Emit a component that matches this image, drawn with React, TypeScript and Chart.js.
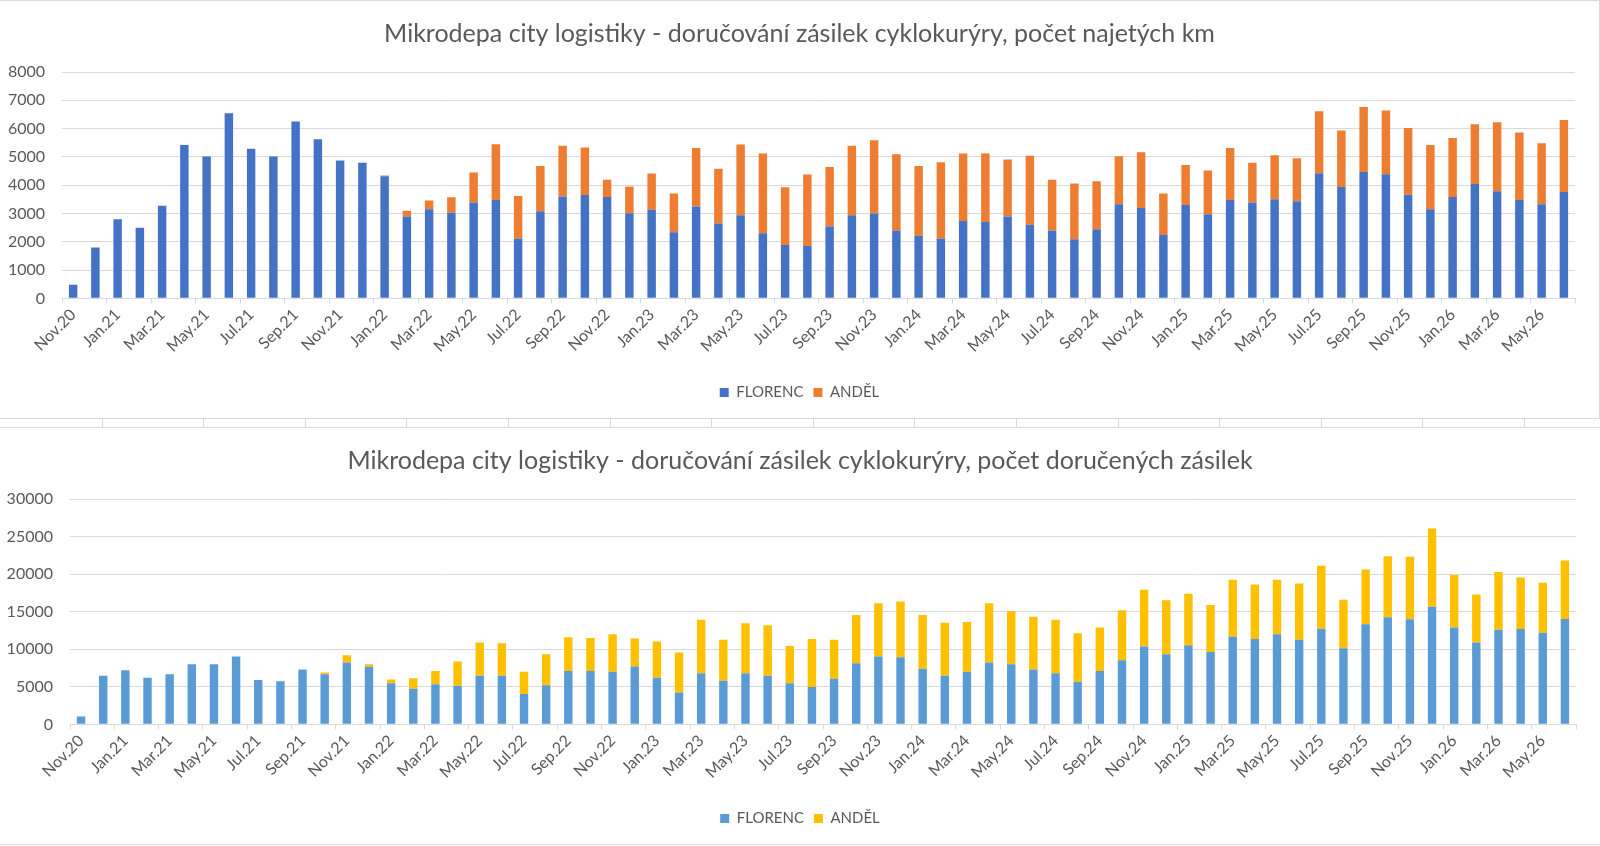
import { useEffect, useRef } from "react";
import Chart from "chart.js/auto";

const months = [
  "Nov.20", "Dec.20",
  "Jan.21", "Feb.21", "Mar.21", "Apr.21", "May.21", "Jun.21", "Jul.21", "Aug.21", "Sep.21", "Oct.21", "Nov.21", "Dec.21",
  "Jan.22", "Feb.22", "Mar.22", "Apr.22", "May.22", "Jun.22", "Jul.22", "Aug.22", "Sep.22", "Oct.22", "Nov.22", "Dec.22",
  "Jan.23", "Feb.23", "Mar.23", "Apr.23", "May.23", "Jun.23", "Jul.23", "Aug.23", "Sep.23", "Oct.23", "Nov.23", "Dec.23",
  "Jan.24", "Feb.24", "Mar.24", "Apr.24", "May.24", "Jun.24", "Jul.24", "Aug.24", "Sep.24", "Oct.24", "Nov.24", "Dec.24",
  "Jan.25", "Feb.25", "Mar.25", "Apr.25", "May.25", "Jun.25", "Jul.25", "Aug.25", "Sep.25", "Oct.25", "Nov.25", "Dec.25",
  "Jan.26", "Feb.26", "Mar.26", "Apr.26", "May.26", "Jun.26",
];

// počet najetých km
const kmFlorenc = [
  480, 1800,
  2800, 2500, 3270, 5420, 5010, 6540, 5290, 5010, 6250, 5620, 4870, 4790,
  4320, 2890, 3150, 3030, 3390, 3480, 2120, 3080, 3600, 3650, 3580, 3010,
  3130, 2340, 3250, 2650, 2940, 2300, 1890, 1850, 2540, 2940, 3000, 2400,
  2210, 2120, 2730, 2700, 2890, 2600, 2400, 2090, 2440, 3330, 3190, 2240,
  3300, 2970, 3480, 3390, 3500, 3430, 4420, 3940, 4470, 4390, 3660, 3150,
  3580, 4040, 3790, 3480, 3330, 3760,
];
const kmAndel = [
  0, 0,
  0, 0, 0, 0, 0, 0, 0, 0, 0, 0, 0, 0,
  20, 210, 310, 545, 1060, 1970, 1500, 1600, 1790, 1680, 610, 940,
  1280, 1370, 2060, 1930, 2500, 2820, 2040, 2530, 2100, 2450, 2590, 2690,
  2470, 2690, 2390, 2420, 2020, 2440, 1790, 1970, 1700, 1690, 1970, 1470,
  1410, 1550, 1830, 1400, 1560, 1520, 2190, 1990, 2290, 2250, 2360, 2270,
  2090, 2110, 2430, 2380, 2150, 2540,
];

// počet doručených zásilek
const parcelsFlorenc = [
  1060, 6460,
  7210, 6200, 6680, 8010, 8010, 9030, 5890, 5750, 7300, 6680, 8230, 7660,
  5490, 4730, 5350, 5130, 6460, 6460, 4030, 5220, 7120, 7120, 6990, 7700,
  6200, 4250, 6810, 5800, 6810, 6460, 5490, 4960, 6060, 8140, 9030, 8940,
  7390, 6460, 6990, 8230, 8010, 7300, 6810, 5660, 7120, 8540, 10350, 9340,
  10530, 9650, 11680, 11370, 11990, 11280, 12740, 10130, 13320, 14250, 13980, 15660,
  12880, 10890, 12610, 12700, 12210, 14030,
];
const parcelsAndel = [
  0, 0,
  0, 0, 0, 0, 0, 0, 0, 0, 0, 220, 970, 350,
  490, 1420, 1770, 3230, 4430, 4340, 2960, 4120, 4470, 4380, 5000, 3720,
  4820, 5310, 7130, 5480, 6640, 6730, 4950, 6410, 5220, 6420, 7080, 7430,
  7170, 7080, 6640, 7880, 7040, 7040, 7130, 6460, 5760, 6640, 7570, 7170,
  6860, 6240, 7570, 7260, 7260, 7480, 8370, 6460, 7300, 8140, 8320, 10400,
  6990, 6410, 7660, 6860, 6640, 7790,
];

const FONT = "Lato, 'Open Sans', sans-serif";
const TEXT = "#595959";
const GRID = "#d9d9d9";

interface StackedBarsProps {
  title: string;
  florenc: number[];
  andel: number[];
  colors: [string, string];
  yMax: number;
  yStep: number;
  yAxisWidth: number;
  height: number;
}

function StackedBars({ title, florenc, andel, colors, yMax, yStep, yAxisWidth, height }: StackedBarsProps) {
  const chartRef = useRef<HTMLCanvasElement>(null);
  const chartInstanceRef = useRef<Chart | null>(null);

  useEffect(() => {
    if (!chartRef.current) return;
    if (chartInstanceRef.current) chartInstanceRef.current.destroy();

    chartInstanceRef.current = new Chart(chartRef.current, {
      type: "bar",
      data: {
        labels: months,
        datasets: [
          { label: "FLORENC", data: florenc, backgroundColor: colors[0], borderWidth: 0 },
          { label: "ANDĚL", data: andel, backgroundColor: colors[1], borderWidth: 0 },
        ],
      },
      options: {
        animation: false,
        responsive: true,
        maintainAspectRatio: false,
        datasets: { bar: { barPercentage: 0.38, categoryPercentage: 1 } },
        layout: { padding: { left: 0, right: 0, bottom: 8 } },
        plugins: {
          title: {
            display: true,
            text: title,
            color: TEXT,
            font: { family: FONT, size: 25, weight: "normal" },
            padding: { top: 18, bottom: 23 },
          },
          legend: {
            position: "bottom",
            labels: {
              color: TEXT,
              font: { family: FONT, size: 15 },
              boxWidth: 9,
              boxHeight: 9,
              padding: 10,
            },
          },
          tooltip: { enabled: false },
        },
        scales: {
          x: {
            stacked: true,
            grid: {
              drawOnChartArea: false,
              drawTicks: true,
              tickLength: 5,
              color: (ctx: any) =>
                ctx.index === undefined || ctx.index % 2 === 0 ? GRID : "rgba(0,0,0,0)",
            },
            border: { color: GRID },
            ticks: {
              autoSkip: false,
              minRotation: 45,
              maxRotation: 45,
              padding: 2,
              color: TEXT,
              font: { family: FONT, size: 16 },
              callback: (_v: any, i: number) => (i % 2 === 0 ? months[i] : ""),
            },
            afterFit: (scale: any) => {
              scale.height += 17;
            },
          },
          y: {
            stacked: true,
            min: 0,
            max: yMax,
            grid: { color: GRID, drawTicks: false, tickLength: 0 },
            border: { display: false },
            ticks: {
              stepSize: yStep,
              padding: 17,
              color: TEXT,
              font: { family: FONT, size: 16 },
              callback: (v: any) => String(v),
            },
            afterFit: (scale: any) => {
              scale.width = yAxisWidth;
            },
          },
          // empty right-hand margin so the plot ends where the reference does
          // while title and legend stay centred on the full width
          right: {
            position: "right",
            min: 0,
            max: 1,
            grid: { drawOnChartArea: false, drawTicks: false },
            border: { display: false },
            ticks: { display: false },
            afterFit: (scale: any) => {
              scale.width = 24;
            },
          },
        },
      },
    });

    return () => {
      if (chartInstanceRef.current) {
        chartInstanceRef.current.destroy();
        chartInstanceRef.current = null;
      }
    };
  }, [title, florenc, andel, colors, yMax, yStep, yAxisWidth]);

  return (
    <div style={{ position: "relative", height }}>
      <canvas ref={chartRef} />
    </div>
  );
}

// spreadsheet cell lines visible between the two charts
function CellStrip() {
  const cells = Array.from({ length: 16 });
  return (
    <div
      style={{
        height: 8,
        borderTop: `1px solid ${GRID}`,
        borderBottom: `1px solid ${GRID}`,
        display: "flex",
        overflow: "hidden",
      }}
    >
      {cells.map((_, i) => (
        <div key={i} style={{ flex: "0 0 101.6px", boxSizing: "border-box", borderLeft: i ? `1px solid ${GRID}` : "none" }} />
      ))}
    </div>
  );
}

export default function App() {
  useEffect(() => {
    document.body.style.margin = "0";
    document.body.style.background = "#ffffff";
  }, []);

  return (
    <div style={{ width: 1600, height: 846, overflow: "hidden", background: "#fff", fontFamily: FONT }}>
      <div style={{ borderTop: `1px solid ${GRID}`, borderRight: `1px solid ${GRID}` }}>
        <StackedBars
          title="Mikrodepa city logistiky - doručování zásilek cyklokurýry, počet najetých km"
          florenc={kmFlorenc}
          andel={kmAndel}
          colors={["#4472C4", "#ED7D31"]}
          yMax={8000}
          yStep={1000}
          yAxisWidth={62}
          height={417}
        />
      </div>
      <CellStrip />
      <div style={{ borderBottom: `1px solid ${GRID}` }}>
        <StackedBars
          title="Mikrodepa city logistiky - doručování zásilek cyklokurýry, počet doručených zásilek"
          florenc={parcelsFlorenc}
          andel={parcelsAndel}
          colors={["#5B9BD5", "#FFC000"]}
          yMax={30000}
          yStep={5000}
          yAxisWidth={70}
          height={416}
        />
      </div>
    </div>
  );
}
